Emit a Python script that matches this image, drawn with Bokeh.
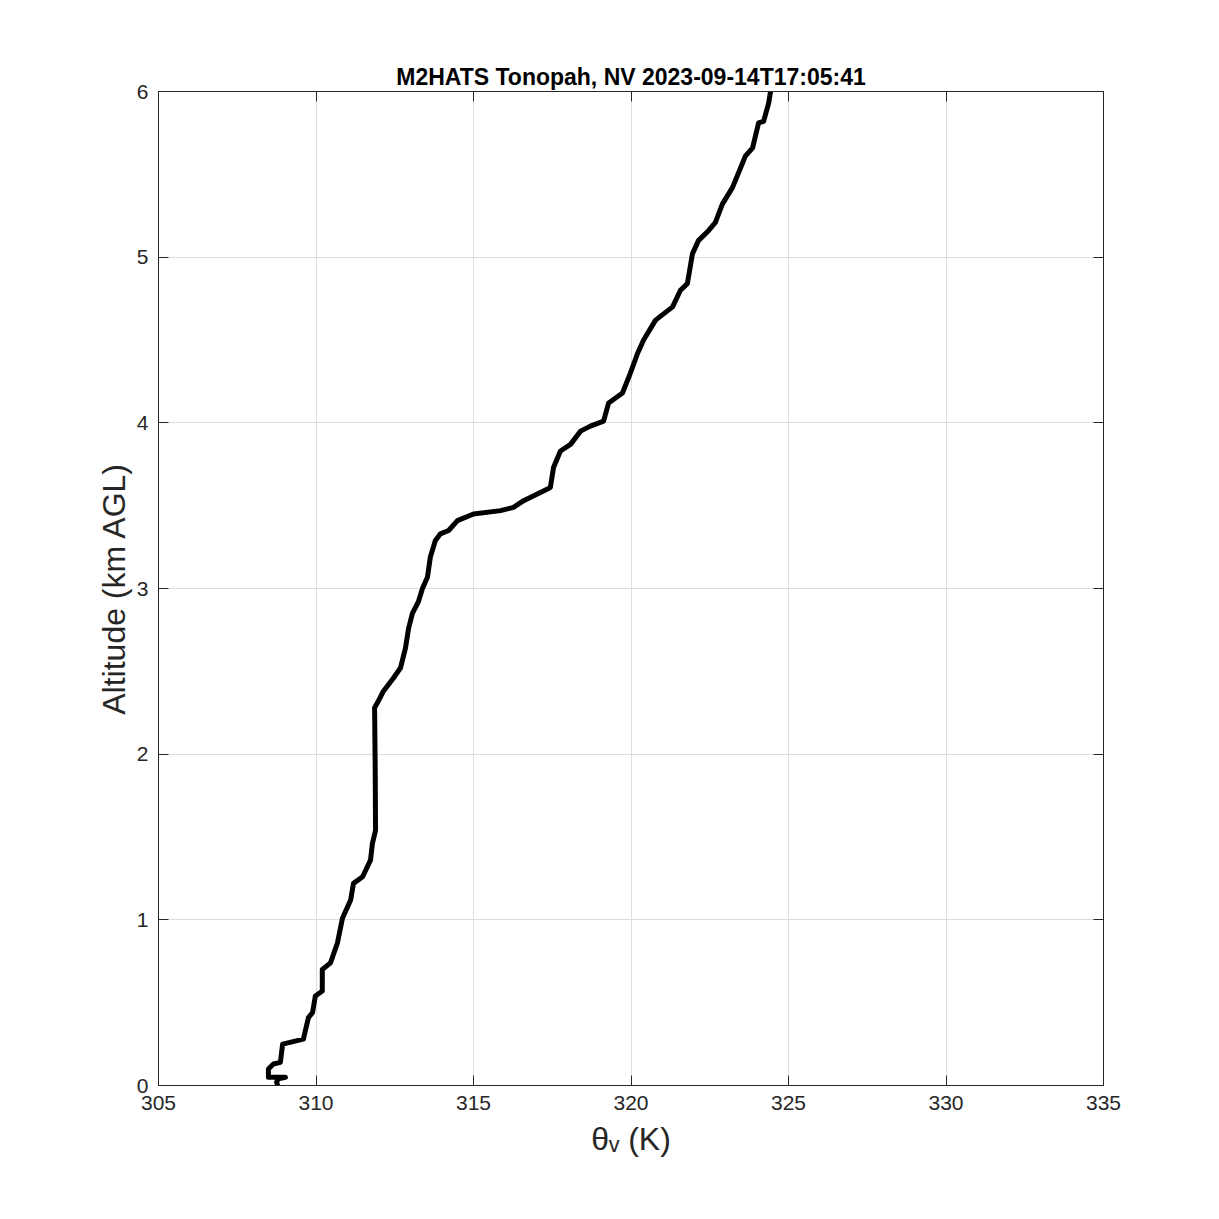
from bokeh.plotting import figure
from bokeh.models import LinearAxis, Range1d, FixedTicker, CustomJSTickFormatter, ColumnDataSource
from bokeh.embed import file_html
from bokeh.resources import INLINE

theta_v = [308.78, 308.75, 308.80, 309.03, 308.49, 308.49, 308.65, 308.87, 308.94, 309.60,
           309.76, 309.89, 309.98, 310.20, 310.20, 310.46, 310.68, 310.84, 311.10, 311.19,
           311.48, 311.73, 311.79, 311.89, 311.88, 311.86, 311.95, 312.14, 312.46, 312.68,
           312.84, 312.94, 313.06, 313.25, 313.38, 313.54, 313.63, 313.79, 313.95, 314.21,
           314.49, 315.00, 315.86, 316.27, 316.59, 317.35, 317.44, 317.54, 317.76, 318.08,
           318.40, 318.71, 319.13, 319.29, 319.73, 319.98, 320.21, 320.40, 320.78, 321.32,
           321.57, 321.79, 321.95, 322.14, 322.46, 322.68, 322.90, 323.22, 323.48, 323.63,
           323.86, 324.05, 324.21, 324.37, 324.43]
alt_km = [0.00, 0.02, 0.04, 0.05, 0.05, 0.10, 0.13, 0.14, 0.25, 0.28,
          0.41, 0.44, 0.54, 0.57, 0.70, 0.74, 0.86, 1.01, 1.12, 1.22,
          1.26, 1.36, 1.46, 1.54, 1.90, 2.28, 2.31, 2.38, 2.46, 2.52,
          2.64, 2.76, 2.85, 2.92, 3.00, 3.07, 3.19, 3.29, 3.33, 3.35,
          3.41, 3.45, 3.47, 3.49, 3.53, 3.60, 3.61, 3.73, 3.83, 3.87,
          3.95, 3.98, 4.01, 4.12, 4.18, 4.30, 4.42, 4.50, 4.62, 4.70,
          4.80, 4.84, 5.02, 5.10, 5.16, 5.21, 5.32, 5.42, 5.54, 5.61,
          5.66, 5.81, 5.82, 5.93, 6.00]

x_ticks = [305, 310, 315, 320, 325, 330, 335]
y_ticks = [0, 1, 2, 3, 4, 5, 6]
title_text = "M2HATS Tonopah, NV 2023-09-14T17:05:41"

FONT = "Liberation Sans"
AX = "#262626"

p = figure(frame_width=945, frame_height=994,
           x_range=Range1d(305, 335), y_range=Range1d(0, 6),
           output_backend="svg", toolbar_location=None,
           min_border_left=158, min_border_top=91, min_border_right=100, min_border_bottom=100,
           background_fill_color="white", border_fill_color="white")

p.outline_line_color = AX
p.outline_line_width = 1

p.title.text = title_text
p.title.align = "center"
p.title.text_font = FONT
p.title.text_font_size = "23px"
p.title.text_font_style = "bold"
p.title.text_color = "black"
p.title.standoff = 4

for ax in (p.xaxis[0], p.yaxis[0]):
    ax.axis_line_color = AX
    ax.major_tick_line_color = AX
    ax.major_tick_in = 10
    ax.major_tick_out = 0
    ax.minor_tick_line_color = None
    ax.major_label_text_font = FONT
    ax.major_label_text_font_size = "21px"
    ax.major_label_text_color = AX
    ax.axis_label_text_font = FONT
    ax.axis_label_text_font_size = "32px"
    ax.axis_label_text_font_style = "normal"
    ax.axis_label_text_color = AX

p.xaxis[0].ticker = FixedTicker(ticks=x_ticks)
p.yaxis[0].ticker = FixedTicker(ticks=y_ticks)
p.xaxis[0].axis_label = "θᵥ (K)"
p.yaxis[0].axis_label = "Altitude (km AGL)"
p.xaxis[0].major_label_standoff = 10
p.yaxis[0].major_label_standoff = 10
p.xaxis[0].axis_label_standoff = 8
p.yaxis[0].axis_label_standoff = 2

empty = CustomJSTickFormatter(code="return ''")
top = LinearAxis(ticker=FixedTicker(ticks=x_ticks), formatter=empty,
                 major_tick_in=10, major_tick_out=0, minor_tick_line_color=None,
                 axis_line_color=AX, major_tick_line_color=AX,
                 major_label_standoff=0, major_label_text_font_size="1px")
right = LinearAxis(ticker=FixedTicker(ticks=y_ticks), formatter=empty,
                   major_tick_in=10, major_tick_out=0, minor_tick_line_color=None,
                   axis_line_color=AX, major_tick_line_color=AX,
                   major_label_standoff=0, major_label_text_font_size="1px")
p.add_layout(top, "above")
p.add_layout(right, "right")

p.xgrid.ticker = FixedTicker(ticks=x_ticks)
p.ygrid.ticker = FixedTicker(ticks=y_ticks)
p.grid.grid_line_color = "#dedede"
p.grid.grid_line_width = 1

src = ColumnDataSource(data=dict(x=theta_v, y=alt_km))
p.line("x", "y", source=src, line_color="black", line_width=5, line_join="round", line_cap="round")

open("out.html", "w").write(file_html(p, INLINE))
